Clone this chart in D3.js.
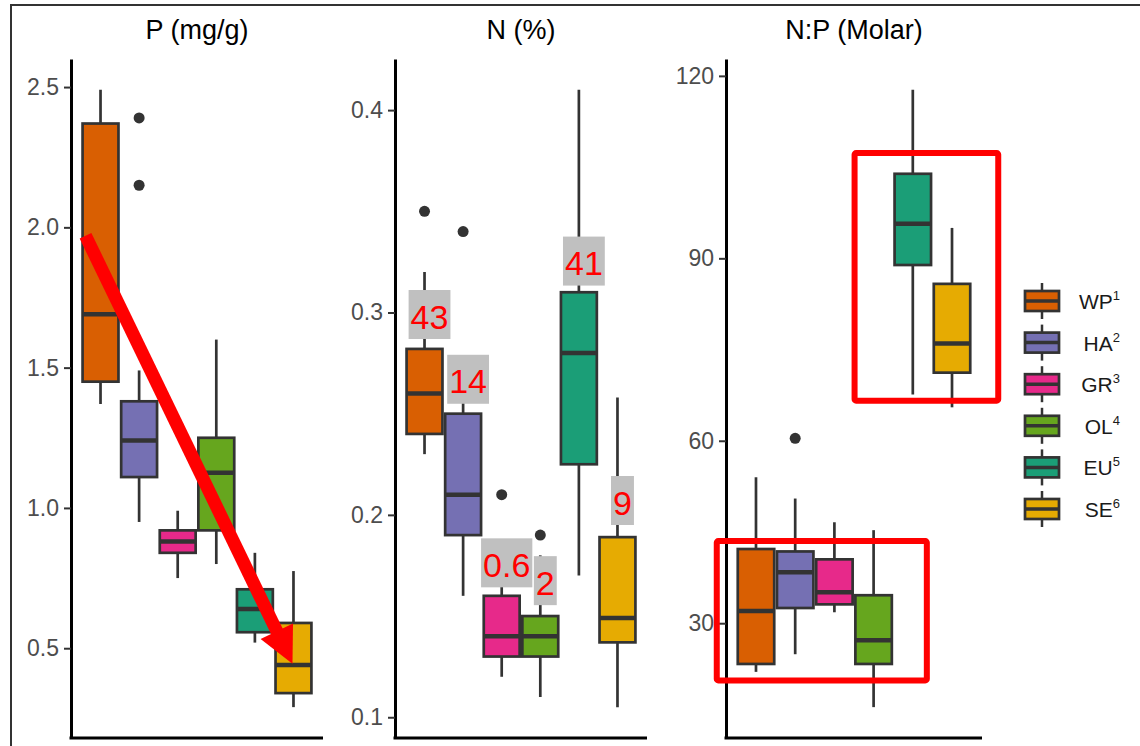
<!DOCTYPE html>
<html>
<head>
<meta charset="utf-8">
<script src="https://cdn.jsdelivr.net/npm/d3@7"></script>
<style>
  body { margin: 0; background: #fff; }
  svg { display: block; font-family: "Liberation Sans", Arial, sans-serif; }
</style>
</head>
<body>
<div class="chart"></div>
<script>
// site groups, shared by all three panels
var groups = ["WP", "HA", "GR", "OL", "EU", "SE"];
var groupSup = ["1", "2", "3", "4", "5", "6"];
var colors = ["#d95f02", "#7570b3", "#e7298a", "#66a61e", "#1b9e77", "#e6ab02"];

// box stats: [lower whisker, Q1, median, Q3, upper whisker]
var pStats = [
    [1.37, 1.45, 1.69, 2.37, 2.49],
    [0.95, 1.11, 1.24, 1.38, 1.49],
    [0.75, 0.84, 0.88, 0.92, 0.99],
    [0.80, 0.92, 1.125, 1.25, 1.60],
    [0.52, 0.557, 0.64, 0.71, 0.84],
    [0.29, 0.34, 0.44, 0.59, 0.775]
];
var pOutliers = [[], [2.39, 2.15], [], [], [], []];
var pTicks = [0.5, 1.0, 1.5, 2.0, 2.5];

var nStats = [
    [0.230, 0.240, 0.260, 0.282, 0.320],
    [0.160, 0.190, 0.210, 0.250, 0.265],
    [0.120, 0.130, 0.140, 0.160, 0.170],
    [0.110, 0.130, 0.140, 0.150, 0.180],
    [0.170, 0.225, 0.280, 0.310, 0.410],
    [0.105, 0.137, 0.149, 0.189, 0.258]
];
var nOutliers = [[0.350], [0.340], [0.210], [0.190], [], []];
var nTicks = [0.1, 0.2, 0.3, 0.4];

var npStats = [
    [22.0, 23.3, 32.0, 42.2, 54.0],
    [24.9, 32.5, 38.4, 41.8, 50.5],
    [31.8, 33.1, 35.1, 40.5, 46.6],
    [16.2, 23.3, 27.2, 34.6, 45.3],
    [67.6, 88.9, 95.7, 103.9, 117.7],
    [65.5, 71.2, 76.0, 85.8, 95.0]
];
var npOutliers = [[], [60.4], [], [], [], []];
var npTicks = [30, 60, 90, 120];

// annotations
var nLabelText = ["43", "14", "0.6", "2", "41", "9"];
var nLabelValue = [0.299, 0.267, 0.1763, 0.1675, 0.3254, 0.2071];
var arrowGroups = ["WP", "SE"];
var arrowValues = [1.97, 0.445];
var boxGroups = [["EU", "SE"], ["WP", "OL"]];
var boxTop = [107.3, 43.5];
var boxBottom = [66.6, 20.6];

var svgWidth = 1140;
var svgHeight = 746;
var panelTop = 59;
var panelBottom = 738;
var dark = "#333333";

var svg = d3.select(".chart")
    .append("svg")
    .attr("width", svgWidth)
    .attr("height", svgHeight);

svg.append("rect")
    .attr("x", 11)
    .attr("y", 5)
    .attr("width", svgWidth)
    .attr("height", svgHeight)
    .attr("fill", "none")
    .attr("stroke", dark)
    .attr("stroke-width", 2);

function drawPanel(title, left, width, stats, outliers, ticks, fmt) {
    var lo = d3.min(stats, function(d) { return d[0]; });
    var hi = d3.max(stats, function(d) { return d[4]; });
    outliers.forEach(function(o) {
        o.forEach(function(v) { lo = Math.min(lo, v); hi = Math.max(hi, v); });
    });
    var pad = (hi - lo) * 0.05;

    var y = d3.scaleLinear().domain([lo - pad, hi + pad]).range([panelBottom, panelTop]);
    var x = d3.scaleBand().domain(groups).range([left, left + width])
        .paddingInner(0.07).paddingOuter(0.3);

    var g = svg.append("g");

    g.append("text")
        .attr("x", left + width / 2)
        .attr("y", 39)
        .attr("text-anchor", "middle")
        .attr("font-size", 27)
        .attr("fill", "#000")
        .text(title);

    var axis = g.append("g")
        .attr("transform", "translate(" + left + ",0)")
        .call(d3.axisLeft(y).tickValues(ticks).tickFormat(d3.format(fmt))
            .tickSize(7).tickSizeOuter(0).tickPadding(5));
    axis.select(".domain").attr("stroke", "#000").attr("stroke-width", 3);
    axis.selectAll(".tick line").attr("stroke", dark).attr("stroke-width", 2);
    axis.selectAll(".tick text")
        .attr("font-size", 23)
        .attr("fill", "#4d4d4d")
        .attr("font-family", "Liberation Sans, Arial, sans-serif");

    g.append("line")
        .attr("x1", left - 1.5)
        .attr("x2", left + width)
        .attr("y1", panelBottom)
        .attr("y2", panelBottom)
        .attr("stroke", "#000")
        .attr("stroke-width", 3);

    var rows = groups.map(function(k, i) {
        return { key: k, s: stats[i], out: outliers[i], color: colors[i] };
    });

    var box = g.selectAll(".box")
        .data(rows)
        .enter()
        .append("g")
        .attr("class", "box");

    box.append("line")
        .attr("x1", function(d) { return x(d.key) + x.bandwidth() / 2; })
        .attr("x2", function(d) { return x(d.key) + x.bandwidth() / 2; })
        .attr("y1", function(d) { return y(d.s[4]); })
        .attr("y2", function(d) { return y(d.s[0]); })
        .attr("stroke", dark)
        .attr("stroke-width", 2.7);

    box.append("rect")
        .attr("x", function(d) { return x(d.key); })
        .attr("y", function(d) { return y(d.s[3]); })
        .attr("width", x.bandwidth())
        .attr("height", function(d) { return y(d.s[1]) - y(d.s[3]); })
        .attr("fill", function(d) { return d.color; })
        .attr("stroke", dark)
        .attr("stroke-width", 2.7);

    box.append("line")
        .attr("x1", function(d) { return x(d.key); })
        .attr("x2", function(d) { return x(d.key) + x.bandwidth(); })
        .attr("y1", function(d) { return y(d.s[2]); })
        .attr("y2", function(d) { return y(d.s[2]); })
        .attr("stroke", dark)
        .attr("stroke-width", 4.5);

    box.selectAll("circle")
        .data(function(d) { return d.out.map(function(v) { return { key: d.key, v: v }; }); })
        .enter()
        .append("circle")
        .attr("cx", function(d) { return x(d.key) + x.bandwidth() / 2; })
        .attr("cy", function(d) { return y(d.v); })
        .attr("r", 5.5)
        .attr("fill", dark);

    return { x: x, y: y, g: g };
}

var p1 = drawPanel("P (mg/g)", 71, 252, pStats, pOutliers, pTicks, ".1f");
var p2 = drawPanel("N (%)", 395, 252, nStats, nOutliers, nTicks, ".1f");
var p3 = drawPanel("N:P (Molar)", 726, 256, npStats, npOutliers, npTicks, "d");

// red arrow in panel 1
var ax0 = p1.x(arrowGroups[0]) + p1.x.bandwidth() / 2 - 15;
var ay0 = p1.y(arrowValues[0]);
var ax1 = p1.x(arrowGroups[1]) + p1.x.bandwidth() / 2 - 1;
var ay1 = p1.y(arrowValues[1]);
var len = Math.sqrt((ax1 - ax0) * (ax1 - ax0) + (ay1 - ay0) * (ay1 - ay0));
var ux = (ax1 - ax0) / len, uy = (ay1 - ay0) / len;
var headLen = 36, headHalf = 18;
var bx = ax1 - ux * headLen, by = ay1 - uy * headLen;

p1.g.append("line")
    .attr("x1", ax0)
    .attr("y1", ay0)
    .attr("x2", bx + ux * 2)
    .attr("y2", by + uy * 2)
    .attr("stroke", "#ff0000")
    .attr("stroke-width", 13);

p1.g.append("path")
    .attr("d", d3.line()([
        [ax1, ay1],
        [bx - uy * headHalf, by + ux * headHalf],
        [bx + uy * headHalf, by - ux * headHalf]
    ]) + "Z")
    .attr("fill", "#ff0000");

// count labels in panel 2
var labels = p2.g.selectAll(".lab")
    .data(nLabelText.map(function(t, i) { return { key: groups[i], t: t, v: nLabelValue[i] }; }))
    .enter()
    .append("g")
    .attr("class", "lab");

labels.append("rect").attr("fill", "#c0c0c0");
labels.append("text")
    .attr("text-anchor", "middle")
    .attr("font-size", 34)
    .attr("fill", "#ff0000")
    .attr("x", function(d) { return p2.x(d.key) + p2.x.bandwidth() / 2 + 5; })
    .attr("y", function(d) { return p2.y(d.v) + 14; })
    .text(function(d) { return d.t; });

labels.each(function(d) {
    var grp = d3.select(this);
    var w = grp.select("text").node().getComputedTextLength() + 4;
    var cx = p2.x(d.key) + p2.x.bandwidth() / 2 + 5;
    grp.select("rect")
        .attr("x", cx - w / 2)
        .attr("y", p2.y(d.v) - 24.5)
        .attr("width", w)
        .attr("height", 49);
});

// highlight boxes in panel 3
var hiPad = [[40, 28], [21, 35]];
boxGroups.forEach(function(pair, i) {
    var x0 = p3.x(pair[0]) - hiPad[i][0];
    var x1 = p3.x(pair[1]) + p3.x.bandwidth() + hiPad[i][1];
    p3.g.append("rect")
        .attr("x", x0)
        .attr("y", p3.y(boxTop[i]))
        .attr("width", x1 - x0)
        .attr("height", p3.y(boxBottom[i]) - p3.y(boxTop[i]))
        .attr("rx", 1.5)
        .attr("fill", "none")
        .attr("stroke", "#ff0000")
        .attr("stroke-width", 6);
});

// legend
var legend = svg.append("g");
var keyY = d3.scalePoint().domain(groups).range([301, 509]);

var item = legend.selectAll(".key")
    .data(groups)
    .enter()
    .append("g")
    .attr("class", "key")
    .attr("transform", function(d) { return "translate(1042," + keyY(d) + ")"; });

item.append("line")
    .attr("y1", -18).attr("y2", 18)
    .attr("stroke", dark).attr("stroke-width", 2.5);
item.append("rect")
    .attr("x", -17).attr("y", -10)
    .attr("width", 34).attr("height", 20)
    .attr("fill", function(d, i) { return colors[i]; })
    .attr("stroke", dark).attr("stroke-width", 2.7);
item.append("line")
    .attr("x1", -17).attr("x2", 17)
    .attr("stroke", dark).attr("stroke-width", 3.5);

var lt = item.append("text")
    .attr("x", 78)
    .attr("y", 8)
    .attr("text-anchor", "end")
    .attr("font-size", 21)
    .attr("fill", "#1a1a1a");
lt.append("tspan").text(function(d) { return d; });
lt.append("tspan")
    .attr("font-size", 13)
    .attr("dy", -9)
    .text(function(d, i) { return groupSup[i]; });
</script>
</body>
</html>
